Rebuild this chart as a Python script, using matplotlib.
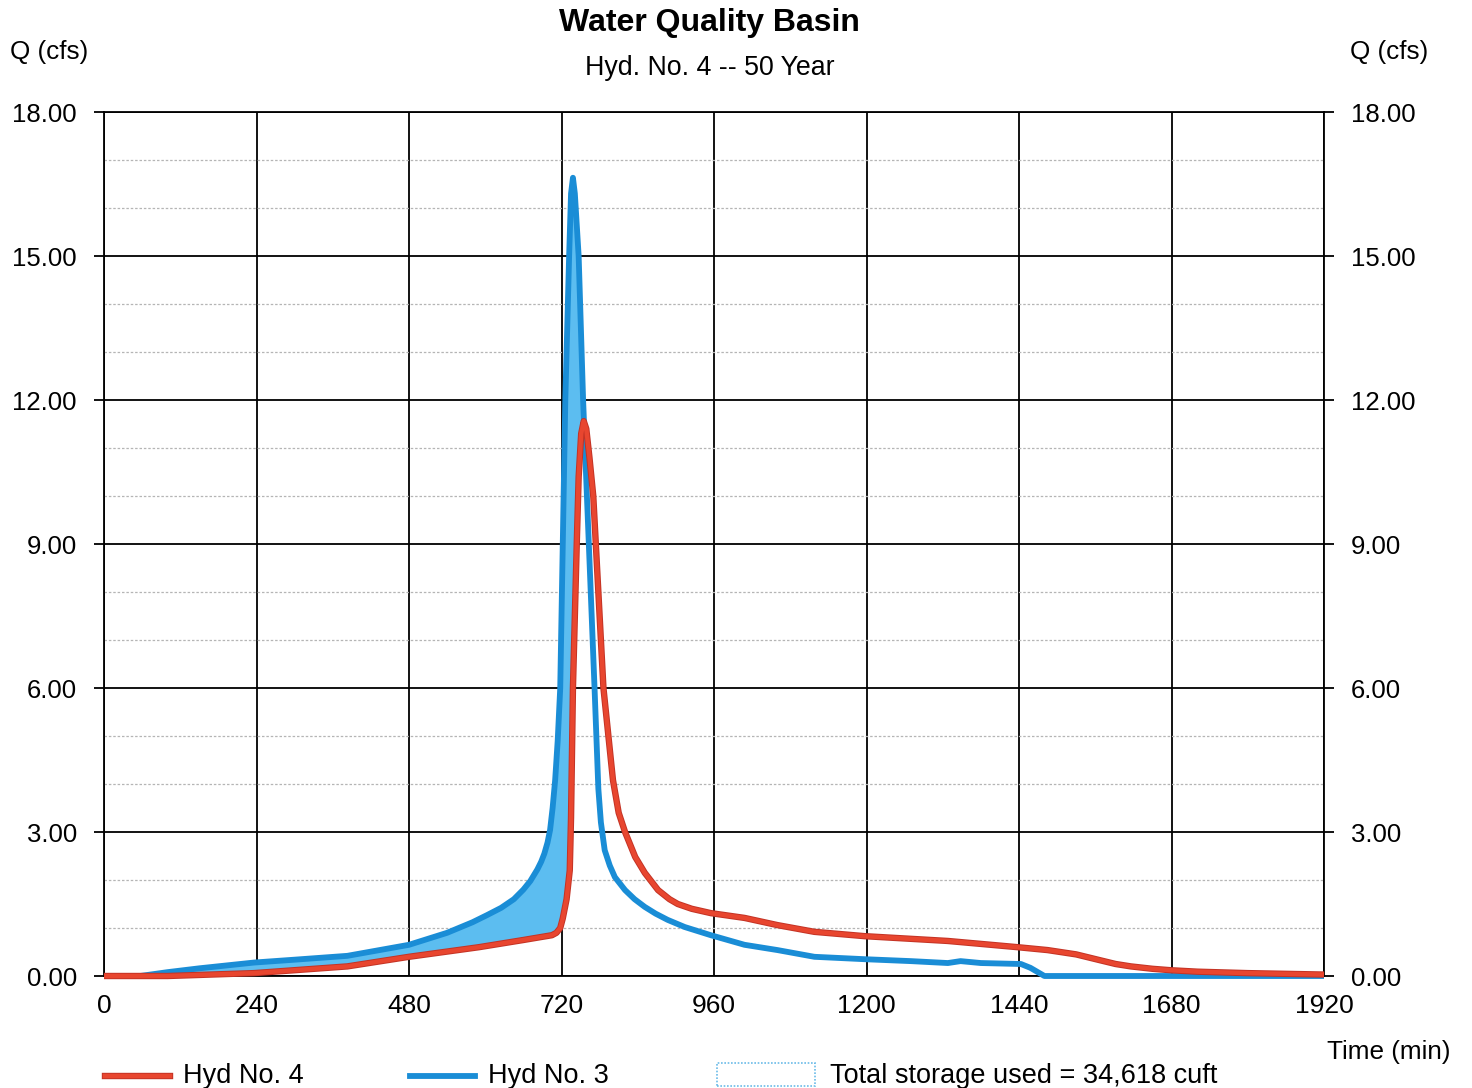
import numpy as np
import matplotlib
matplotlib.use('Agg')
import matplotlib.pyplot as plt
import matplotlib.patheffects as pe
from matplotlib.lines import Line2D
from matplotlib.patches import Rectangle

plt.rcParams['font.family'] = ['Liberation Sans', 'DejaVu Sans']

# Hyd No. 3 (inflow) - time (min) / flow (cfs)
hyd3_t = [0, 57, 100, 150, 236, 300, 383, 480, 540, 580, 603, 625, 645, 660, 671,
          682, 688, 693, 698, 702, 706, 710, 714, 718, 722, 726, 732, 735, 738, 741,
          747, 754, 763, 772, 778, 782, 788, 796, 804, 820, 835, 851, 868, 887, 914,
          955, 1008, 1060, 1118, 1197, 1270, 1328, 1348, 1380, 1443, 1458, 1480, 1920]
hyd3_q = [0.0, 0.0, 0.08, 0.16, 0.28, 0.34, 0.42, 0.65, 0.90, 1.12, 1.27, 1.42, 1.60,
          1.80, 1.98, 2.22, 2.38, 2.55, 2.78, 3.04, 3.5, 4.08, 4.9, 6.0, 9.0, 12.0,
          15.0, 16.3, 16.63, 16.3, 15.0, 12.0, 9.0, 6.0, 3.9, 3.2, 2.62, 2.3, 2.06,
          1.79, 1.6, 1.44, 1.3, 1.17, 1.02, 0.85, 0.65, 0.54, 0.40, 0.35, 0.31, 0.27,
          0.31, 0.27, 0.25, 0.17, 0.0, 0.0]

# Hyd No. 4 (outflow)
hyd4_t = [0, 100, 236, 383, 480, 590, 660, 705, 712, 718, 722, 728, 733, 735, 738,
          744, 747, 751, 755, 759, 764, 770, 774, 786, 801, 810, 820, 836, 851, 872,
          890, 903, 925, 955, 1008, 1060, 1118, 1197, 1328, 1438, 1485, 1530, 1564,
          1592, 1616, 1650, 1679, 1721, 1800, 1920]
hyd4_q = [0.0, 0.0, 0.06, 0.2, 0.40, 0.6, 0.75, 0.85, 0.9, 1.0, 1.2, 1.6, 2.2, 3.3,
          6.0, 9.0, 10.4, 11.3, 11.56, 11.4, 10.8, 10.0, 9.0, 6.0, 4.08, 3.4, 3.0,
          2.48, 2.15, 1.79, 1.6, 1.5, 1.4, 1.31, 1.21, 1.06, 0.92, 0.83, 0.73, 0.60,
          0.54, 0.45, 0.34, 0.25, 0.20, 0.15, 0.12, 0.09, 0.06, 0.03]

x_ticks = [0, 240, 480, 720, 960, 1200, 1440, 1680, 1920]
y_ticks = [0, 3, 6, 9, 12, 15, 18]
y_minor = [1, 2, 4, 5, 7, 8, 10, 11, 13, 14, 16, 17]

RED = '#e8462f'
RED_EDGE = '#c33325'
BLUE = '#1a8dd6'
FILL = '#5cbdf0'

fig = plt.figure(figsize=(14.72, 10.88), dpi=100)
ax = fig.add_axes([104 / 1472, 1 - 976 / 1088, 1220 / 1472, 864 / 1088])

# storage area between inflow and outflow
grid_t = np.union1d(hyd3_t, hyd4_t)
b = np.interp(grid_t, hyd3_t, hyd3_q)
r = np.interp(grid_t, hyd4_t, hyd4_q)
ax.fill_between(grid_t, r, b, where=b > r, interpolate=True, color=FILL, lw=0, zorder=2)

ax.plot(hyd3_t, hyd3_q, color=BLUE, lw=4.2, solid_joinstyle='round', solid_capstyle='butt',
        zorder=4, clip_on=False)
ax.plot(hyd4_t, hyd4_q, color=RED, lw=3.2, solid_joinstyle='round', solid_capstyle='butt',
        zorder=5, clip_on=False,
        path_effects=[pe.Stroke(linewidth=4.6, foreground=RED_EDGE, joinstyle='round'),
                      pe.Normal()])

ax.set_xlim(0, 1920)
ax.set_ylim(0, 18)
ax.set_xticks(x_ticks)
ax.set_xticklabels([str(v) for v in x_ticks])
ax.set_yticks(y_ticks)
ax.set_yticklabels(['%.2f' % v for v in y_ticks])
ax.set_yticks(y_minor, minor=True)

ax.grid(True, which='major', color='black', lw=1.3, zorder=1)
ax.grid(True, which='minor', axis='y', color='#b5b5b5', lw=0.9, ls=(0, (2, 1.5)), zorder=1)
for s in ax.spines.values():
    s.set_linewidth(1.3)

ax.tick_params(axis='y', which='major', direction='out', length=7.5, width=1.3,
               labelsize=18.5, pad=12, right=True, labelright=True)
ax.tick_params(axis='y', which='minor', length=0)
ax.tick_params(axis='x', length=0, labelsize=19, pad=13)

fig.text(0.482, 0.979, 'Water Quality Basin', ha='center', va='center',
         fontsize=23, fontweight='bold')
fig.text(0.482, 0.9375, 'Hyd. No. 4 -- 50 Year', ha='center', va='center', fontsize=19.3)
fig.text(10 / 1472, 0.952, 'Q (cfs)', ha='left', va='center', fontsize=18.8)
fig.text(1350 / 1472, 0.952, 'Q (cfs)', ha='left', va='center', fontsize=18.8)
fig.text(1327 / 1472, 0.0331, 'Time (min)', ha='left', va='center', fontsize=18.8)

# legend row along the bottom edge
ly = 1 - 1076 / 1088
fig.add_artist(Line2D([105 / 1472, 170 / 1472], [ly, ly], color=RED, lw=3.2,
                      path_effects=[pe.Stroke(linewidth=4.6, foreground=RED_EDGE), pe.Normal()]))
fig.text(183 / 1472, ly, 'Hyd No. 4', ha='left', va='center', fontsize=19.5)
fig.add_artist(Line2D([410 / 1472, 475 / 1472], [ly, ly], color=BLUE, lw=4.2))
fig.text(488 / 1472, ly, 'Hyd No. 3', ha='left', va='center', fontsize=19.5)
fig.add_artist(Rectangle((717 / 1472, 1 - 1086 / 1088), 98 / 1472, 23 / 1088,
                         facecolor='white', edgecolor='#6bbbe8', lw=1.2, ls=(0, (1, 1))))
fig.text(830 / 1472, ly, 'Total storage used = 34,618 cuft', ha='left', va='center',
         fontsize=19.5)

fig.savefig('out.png', dpi=100)
